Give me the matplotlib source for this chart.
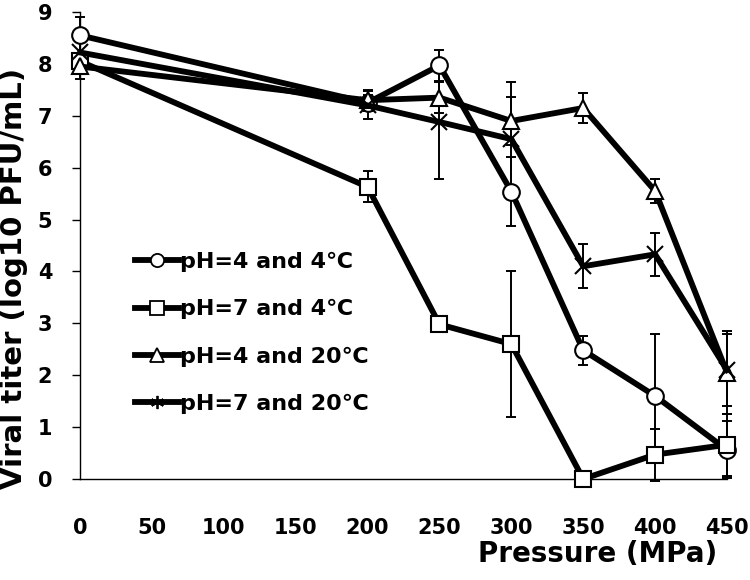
import matplotlib
matplotlib.use("Agg")
import matplotlib.pyplot as plt
from matplotlib.lines import Line2D

plt.rcParams['font.family'] = ['DejaVu Sans']
plt.rcParams['font.weight'] = 'bold'

pressure = [0, 200, 250, 300, 350, 400, 450]
labels = ["pH=4 and 4\u2103", "pH=7 and 4\u2103", "pH=4 and 20\u2103", "pH=7 and 20\u2103"]

ph4_4c = [8.55, 7.25, 7.97, 5.54, 2.48, 1.60, 0.56]
ph4_4c_err = [0.35, 0.15, 0.30, 0.67, 0.28, 1.20, 0.55]
ph7_4c = [8.05, 5.63, 2.98, 2.60, 0.00, 0.47, 0.66]
ph7_4c_err = [0.10, 0.30, 0.12, 1.40, 0.05, 0.50, 0.60]
ph4_20c = [7.95, 7.30, 7.35, 6.90, 7.15, 5.55, 2.05]
ph4_20c_err = [0.25, 0.20, 0.30, 0.47, 0.28, 0.23, 0.80]
ph7_20c = [8.22, 7.20, 6.88, 6.55, 4.10, 4.33, 2.10]
ph7_20c_err = [0.30, 0.27, 1.10, 1.10, 0.42, 0.42, 0.70]

xticks = [0, 50, 100, 150, 200, 250, 300, 350, 400, 450]
yticks = list(range(0, 10))

series = [
    (ph4_4c, ph4_4c_err, 'o', 12),
    (ph7_4c, ph7_4c_err, 's', 11.5),
    (ph4_20c, ph4_20c_err, '^', 11),
    (ph7_20c, ph7_20c_err, 'x', 11),
]

fig = plt.figure(figsize=(7.5, 5.8), dpi=100)
ax = fig.add_axes([80/750, 1-479/580, 647/750, 467/580])

handles = []
for i, (vals, err, mk, ms) in enumerate(series):
    ax.errorbar(pressure, vals, yerr=err, fmt='none', ecolor='black',
                elinewidth=1.4, capsize=3.6, capthick=1.4, zorder=1.5, clip_on=False)
    ax.plot(pressure, vals, color='black', lw=4.2, zorder=3+i,
            marker=mk, markersize=ms, markerfacecolor='white',
            markeredgecolor='black', markeredgewidth=1.5,
            clip_on=False)
    lmk = mk if mk != 'x' else (6, 2, 0)
    handles.append(Line2D([], [], color='black', lw=4.2, marker=lmk,
                          markersize=9.5, markerfacecolor='white',
                          markeredgecolor='black', markeredgewidth=1.3))

ax.set_xlim(0, 450)
ax.set_ylim(0, 9)
ax.set_xticks(xticks)
ax.set_yticks(yticks)
ax.spines['top'].set_visible(False)
ax.spines['right'].set_visible(False)
ax.spines['left'].set_linewidth(1.0)
ax.spines['bottom'].set_linewidth(1.0)
ax.tick_params(axis='x', length=0, pad=28, labelsize=15)
ax.tick_params(axis='y', length=6, width=1.0, direction='out', pad=14, labelsize=15)
for t in ax.get_xticklabels() + ax.get_yticklabels():
    t.set_fontweight('bold')

ax.set_xlabel("Pressure (MPa)", fontsize=20, fontweight='bold')
ax.xaxis.set_label_coords(0.80, -0.13)
ax.set_ylabel("Viral titer (log10 PFU/mL)", fontsize=21, fontweight='bold')
ax.yaxis.set_label_coords(-0.080, 0.43)

leg = ax.legend(handles, labels, loc='upper left', bbox_to_anchor=(0.071, 0.505),
                frameon=False, fontsize=16, handlelength=2.0, handletextpad=0.05,
                labelspacing=1.22, borderaxespad=0)
for t in leg.get_texts():
    t.set_fontweight('bold')

fig.savefig("out.png", dpi=100)
